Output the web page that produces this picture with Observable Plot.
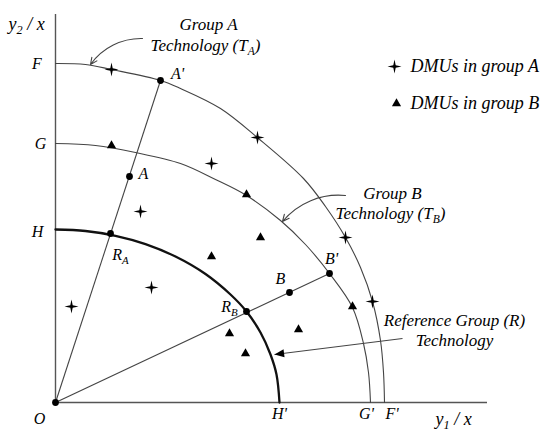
<!DOCTYPE html>
<html>
<head>
<meta charset="utf-8">
<script src="https://cdn.jsdelivr.net/npm/d3@7"></script>
<script src="https://cdn.jsdelivr.net/npm/@observablehq/plot@0.6"></script>
<style>
  html, body { margin: 0; padding: 0; background: #fff; }
  #chart { width: 550px; height: 432px; }
</style>
</head>
<body>
<div id="chart"></div>
<script>
// ---- Data (origin O = (0,0)) ----
const frontierF = [[0,339],[30,338],[56,333],[105,322],[125,314],[165,294],[203,264],[248,224],[270,196],[290,165],[305,135],[317,101],[325,62],[328,30],[329,0]];
const frontierG = [[0,259],[40,257],[80,250],[125,239],[160,223],[191,207],[225,182],[250,158],[274,129],[297,95],[308,59],[313,30],[315,0]];
const frontierH = [[0,173],[30,171.5],[60,166.7],[90,158.4],[120,146],[150,128.5],[175,108],[191,91],[205,70],[215,48],[221,28],[224,0]];

const groupA = [[56,333],[202,265],[156,239],[85,191],[16,96],[96,115],[290,165],[317,101]];
const groupB = [[56,257],[191,208],[205,165],[156,146],[174,69],[190,49],[297,96],[243,73]];

const rays = [[0,0,105,322],[0,0,274,129]];
const keyPoints = [[0,0],[74,226],[105,322],[55,169],[234,110],[274,129],[191,91]];

const pointLabels = ["F","G","H","O","A'","A","R_A","R_B","B","B'","H'","G'","F'"];
const pointLabelX = [-18.5,-15,-18,-16,122,88,65,174,225,276,224,311,336.5];
const pointLabelY = [339,259,171,-16,329,229,148,96,124,144,-11,-11,-11];

const axisLabels = ["y_2 / x","y_1 / x"];
const axisLabelX = [-47,380];
const axisLabelY = [378,-17];

const noteLines = ["Group A","Technology (T_A)","Group B","Technology (T_B)","Reference Group (R)","Technology"];
const noteX = [153,150,337,335,399,399];
const noteY = [378,357,209,189,82,62];

const legendLabels = ["DMUs in group A","DMUs in group B"];
const legendX = [339,341];
const legendY = [336,299];

const curvedArrows = [[87,364,35,338],[290,207,227,181]];
const refArrow = [[347,64,219,48]];

const xDomain = [-55,495];
const yDomain = [-30,402];
const axisEnds = {x: 432, y: 388};

const FONT = "Liberation Serif";

// ---- Custom symbols ----
const star4 = {
  draw(ctx, size) {
    const r = Math.sqrt(size / Math.PI), w = r * 0.17;
    ctx.moveTo(0,-r); ctx.lineTo(w,-w); ctx.lineTo(r,0); ctx.lineTo(w,w);
    ctx.lineTo(0,r); ctx.lineTo(-w,w); ctx.lineTo(-r,0); ctx.lineTo(-w,-w); ctx.closePath();
  }
};
const headAng = Math.atan2(refArrow[0][1]-refArrow[0][3], refArrow[0][0]-refArrow[0][2]);
const leftHead = {
  draw(ctx, size) {
    const L = Math.sqrt(size / Math.PI) * 2.4, h = L * 0.42;
    const c = Math.cos(-headAng), s = Math.sin(-headAng);
    const pt = (x, y) => [x * c - y * s, x * s + y * c];
    const p0 = pt(0,0), p1 = pt(L,-h), p2 = pt(L,h);
    ctx.moveTo(p0[0],p0[1]); ctx.lineTo(p1[0],p1[1]); ctx.lineTo(p2[0],p2[1]); ctx.closePath();
  }
};

const textOpts = {fontStyle: "italic", fontFamily: FONT, fill: "#000"};

const chart = Plot.plot({
  width: 550,
  height: 432,
  margin: 0,
  x: {domain: xDomain, axis: null},
  y: {domain: yDomain, axis: null},
  style: {fontFamily: FONT, background: "#fff", color: "#000"},
  marks: [
    Plot.ruleX([0], {y1: 0, y2: axisEnds.y, stroke: "#555", strokeWidth: 1.4}),
    Plot.ruleY([0], {x1: 0, x2: axisEnds.x, stroke: "#555", strokeWidth: 1.4}),
    Plot.line(frontierF, {x: d => d[0], y: d => d[1], curve: "catmull-rom", stroke: "#444", strokeWidth: 1.1}),
    Plot.line(frontierG, {x: d => d[0], y: d => d[1], curve: "catmull-rom", stroke: "#444", strokeWidth: 1.1}),
    Plot.line(frontierH, {x: d => d[0], y: d => d[1], curve: "catmull-rom", stroke: "#111", strokeWidth: 2.3}),
    Plot.link(rays, {x1: d => d[0], y1: d => d[1], x2: d => d[2], y2: d => d[3], stroke: "#444", strokeWidth: 1.1}),
    Plot.dot(keyPoints, {x: d => d[0], y: d => d[1], r: 3.4, fill: "#000", stroke: "none"}),
    Plot.dot(groupA, {x: d => d[0], y: d => d[1], r: 7, symbol: star4, fill: "#000", stroke: "none"}),
    Plot.dot(groupB, {x: d => d[0], y: d => d[1], r: 3.4, symbol: "triangle", fill: "#000", stroke: "none"}),
    Plot.arrow(curvedArrows, {x1: d => d[0], y1: d => d[1], x2: d => d[2], y2: d => d[3], bend: -28, stroke: "#444", strokeWidth: 1.1, headLength: 10, headAngle: 50}),
    Plot.link(refArrow, {x1: d => d[0], y1: d => d[1], x2: d => d[2], y2: d => d[3], stroke: "#444", strokeWidth: 1.1}),
    Plot.dot(refArrow, {x: d => d[2], y: d => d[3], r: 4, symbol: leftHead, fill: "#000", stroke: "none"}),
    Plot.text(pointLabels, {x: (d, i) => pointLabelX[i], y: (d, i) => pointLabelY[i], text: d => d, fontSize: 16, ...textOpts}),
    Plot.text(axisLabels, {x: (d, i) => axisLabelX[i], y: (d, i) => axisLabelY[i], text: d => d, fontSize: 18, textAnchor: "start", ...textOpts}),
    Plot.text(noteLines, {x: (d, i) => noteX[i], y: (d, i) => noteY[i], text: d => d, fontSize: 17, ...textOpts}),
    Plot.dot([legendLabels[0]], {x: legendX[0], y: legendY[0], r: 7, symbol: star4, fill: "#000", stroke: "none"}),
    Plot.dot([legendLabels[1]], {x: legendX[1], y: legendY[1], r: 3.4, symbol: "triangle", fill: "#000", stroke: "none"}),
    Plot.text(legendLabels, {x: (d, i) => legendX[0] + 16, y: (d, i) => legendY[i], text: d => d, fontSize: 18, textAnchor: "start", ...textOpts})
  ]
});

// subscripts: "X_Y" -> X with subscript Y
const ns = "http://www.w3.org/2000/svg";
chart.querySelectorAll("text").forEach(t => {
  const s = t.textContent;
  if (!s.includes("_")) return;
  const parts = s.split(/_(\w)/);
  t.textContent = "";
  let shifted = false;
  parts.forEach((p, i) => {
    if (!p) return;
    const ts = document.createElementNS(ns, "tspan");
    ts.textContent = p;
    if (i % 2 === 1) {
      ts.setAttribute("font-size", "0.68em");
      ts.setAttribute("dy", "4");
      shifted = true;
    } else if (shifted) {
      ts.setAttribute("dy", "-4");
      shifted = false;
    }
    t.appendChild(ts);
  });
});

document.getElementById("chart").appendChild(chart);
</script>
</body>
</html>
